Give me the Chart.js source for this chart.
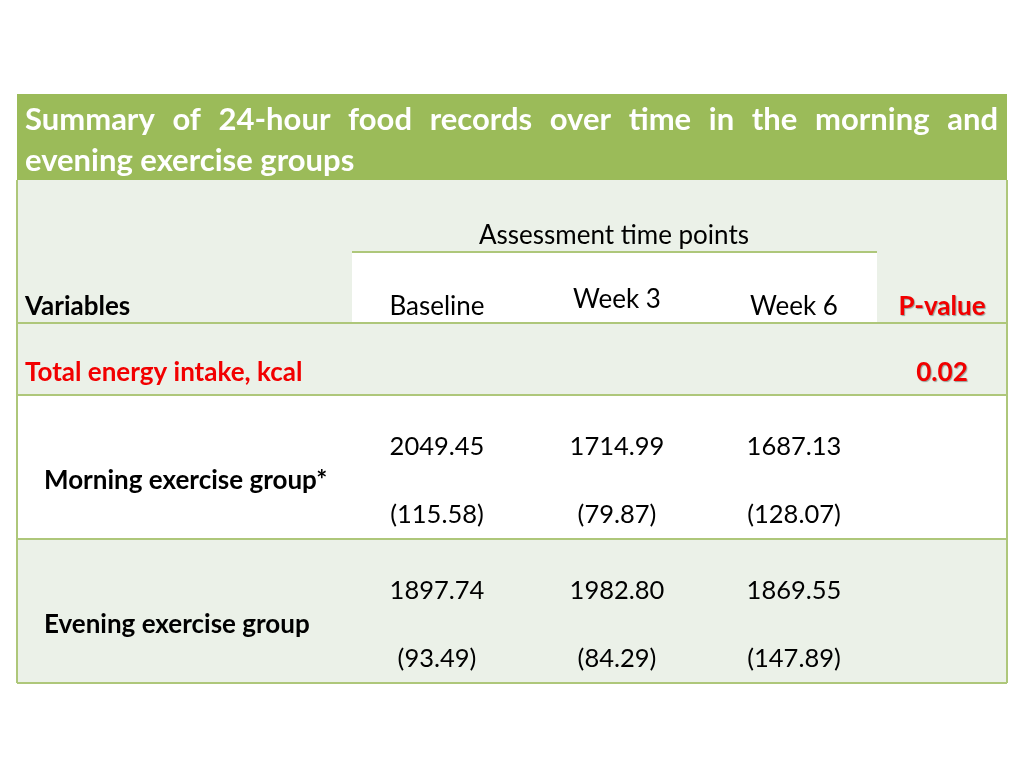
<!DOCTYPE html>
<html>
<head>
<meta charset="utf-8">
<script src="https://cdn.jsdelivr.net/npm/chart.js@4"></script>
<style>
  html, body { margin: 0; background: #fff; }
  #wrap { width: 1024px; height: 768px; }
</style>
</head>
<body>
<div id="wrap"><canvas id="myChart"></canvas></div>
<script>
// table content
var titleLines = ['Summary of 24-hour food records over time in the morning and', 'evening exercise groups'];
var headerLabel = 'Assessment time points';
var variablesLabel = 'Variables';
var pLabel = 'P-value';
var timePoints = ['Baseline', 'Week 3', 'Week 6'];
var variableName = 'Total energy intake, kcal';
var pValues = ['0.02'];
var groups = ['Morning exercise group*', 'Evening exercise group'];
var means = [[2049.45, 1714.99, 1687.13], [1897.74, 1982.80, 1869.55]];
var sds = [[115.58, 79.87, 128.07], [93.49, 84.29, 147.89]];

var GREEN = '#9bbb59';
var LIGHT = '#ebf1e8';
var LINE = '#aec77a';
var RED = '#f20000';
var FONT = 'Lato, "Liberation Sans", sans-serif';

var tablePlugin = {
  id: 'table',
  beforeDraw: function (chart) {
    var c = chart.ctx, sx = chart.scales.x, sy = chart.scales.y;
    var X = function (v) { return sx.getPixelForValue(v); };
    var Y = function (v) { return sy.getPixelForValue(v); };
    c.save();
    // header band
    c.fillStyle = GREEN;
    c.fillRect(X(17), Y(94), X(1007) - X(17), Y(180) - Y(94));
    // light rows
    c.fillStyle = LIGHT;
    c.fillRect(X(17), Y(180), X(1007) - X(17), Y(395) - Y(180));
    c.fillRect(X(17), Y(539), X(1007) - X(17), Y(683) - Y(539));
    // white block under sub header
    c.fillStyle = '#fff';
    c.fillRect(X(352), Y(252), X(877) - X(352), Y(323) - Y(252));
    // grid lines
    c.strokeStyle = LINE;
    c.lineWidth = 2;
    c.beginPath();
    [323, 395, 539, 683].forEach(function (y) {
      c.moveTo(X(17), Y(y)); c.lineTo(X(1007), Y(y));
    });
    c.moveTo(X(352), Y(252)); c.lineTo(X(877), Y(252));
    c.moveTo(X(17), Y(180)); c.lineTo(X(17), Y(683));
    c.moveTo(X(1007), Y(180)); c.lineTo(X(1007), Y(683));
    c.stroke();
    c.restore();
  },
  afterDraw: function (chart) {
    var c = chart.ctx, sx = chart.scales.x, sy = chart.scales.y;
    var X = function (v) { return sx.getPixelForValue(v); };
    var Y = function (v) { return sy.getPixelForValue(v); };
    c.save();
    c.textBaseline = 'middle';

    // title, first line justified
    c.fillStyle = '#fff';
    c.font = 'bold 31px ' + FONT;
    var words = titleLines[0].split(' ');
    var total = 0;
    words.forEach(function (w) { total += c.measureText(w).width; });
    var gap = (X(998) - X(25) - total) / (words.length - 1);
    var x = X(25);
    c.textAlign = 'left';
    words.forEach(function (w) {
      c.fillText(w, x, Y(120));
      x += c.measureText(w).width + gap;
    });
    c.fillText(titleLines[1], X(25), Y(161));

    var colX = [437, 617, 794];
    var pX = 942;

    c.fillStyle = '#000';
    c.font = '26px ' + FONT;
    c.textAlign = 'center';
    c.fillText(headerLabel, X(614), Y(236));
    var headY = [307, 300, 307];
    timePoints.forEach(function (t, i) { c.fillText(t, X(colX[i]), Y(headY[i])); });

    c.font = 'bold 26px ' + FONT;
    c.textAlign = 'left';
    c.fillText(variablesLabel, X(25), Y(307));

    // red labels with a faint shadow
    c.shadowColor = 'rgba(0,0,0,0.35)';
    c.shadowOffsetX = 1; c.shadowOffsetY = 1; c.shadowBlur = 1;
    c.fillStyle = RED;
    c.textAlign = 'center';
    c.fillText(pLabel, X(pX), Y(307));
    c.fillText(pValues[0], X(pX), Y(373));
    c.shadowColor = 'transparent';
    c.textAlign = 'left';
    c.fillText(variableName, X(25), Y(373));

    // group rows
    var rowTop = [395, 539];
    groups.forEach(function (g, r) {
      var top = rowTop[r];
      c.fillStyle = '#000';
      c.font = 'bold 26px ' + FONT;
      c.textAlign = 'left';
      c.fillText(g, X(44), Y(top + 86));
      c.font = '25.5px ' + FONT;
      c.textAlign = 'center';
      means[r].forEach(function (m, i) {
        c.fillText(m.toFixed(2), X(colX[i]), Y(top + 52));
        c.fillText('(' + sds[r][i].toFixed(2) + ')', X(colX[i]), Y(top + 120));
      });
    });
    c.restore();
  }
};

var ctx = document.getElementById('myChart').getContext('2d');
var myChart = new Chart(ctx, {
  type: 'scatter',
  data: { datasets: [{ data: [], pointRadius: 0 }] },
  options: {
    responsive: true,
    maintainAspectRatio: false,
    animation: false,
    layout: { padding: 0 },
    scales: {
      x: { type: 'linear', min: 0, max: 1024, display: false },
      y: { type: 'linear', min: 0, max: 768, reverse: true, display: false }
    },
    plugins: { legend: { display: false }, tooltip: { enabled: false } }
  },
  plugins: [tablePlugin]
});
</script>
</body>
</html>
